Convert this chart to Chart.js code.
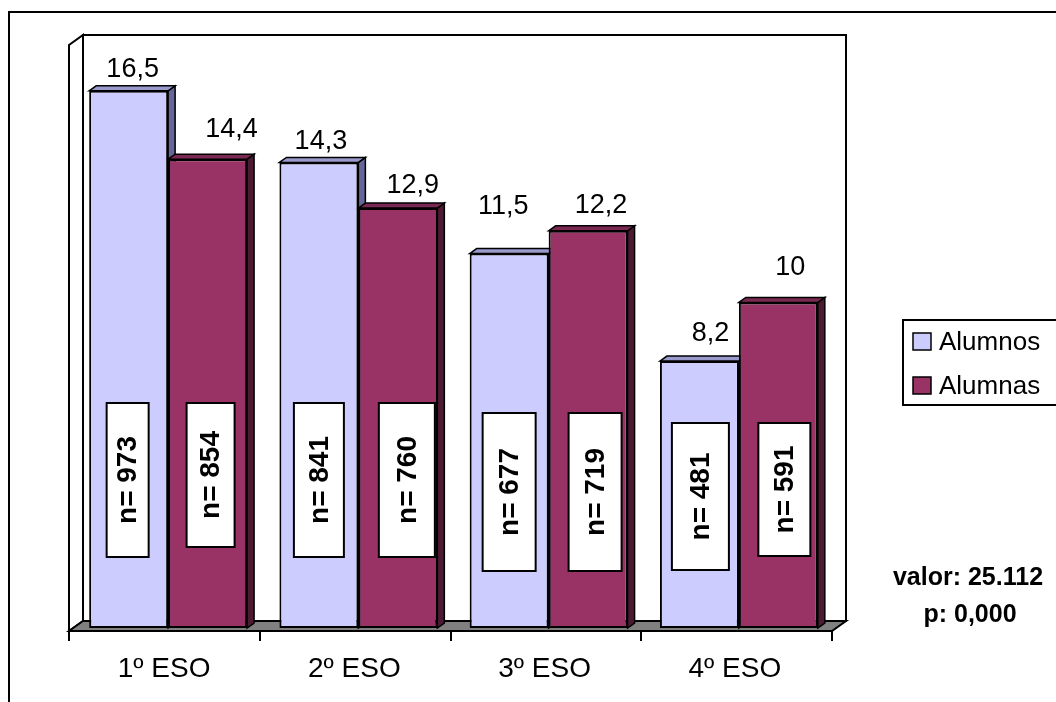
<!DOCTYPE html>
<html>
<head>
<meta charset="utf-8">
<script src="https://cdn.jsdelivr.net/npm/chart.js@4/dist/chart.umd.min.js"></script>
<style>
	body { margin: 0; background: #fff; }
</style>
</head>
<body>
<canvas id="barChart" width="1056" height="702"></canvas>
<script>
// datos del gráfico
var cursos = [ '1º ESO', '2º ESO', '3º ESO', '4º ESO' ];
var alumnos = [ 16.5, 14.3, 11.5, 8.2 ];
var alumnas = [ 14.4, 12.9, 12.2, 10 ];
var nAlumnos = [ 973, 841, 677, 481 ];
var nAlumnas = [ 854, 760, 719, 591 ];
var estadistico = [ 'valor: 25.112', 'p: 0,000' ];

var FUENTE = "'Liberation Sans', Arial, sans-serif";
var PROF_X = 7, PROF_Y = 5;     // profundidad de las barras
var PARED_X = 14, PARED_Y = 10; // profundidad de pared y suelo

// colores: frente, arriba, lado
var colAlumnos = [ '#CCCCFF', '#9999CC', '#666699' ];
var colAlumnas = [ '#993366', '#7A2952', '#4D1A33' ];

// ajuste manual de las etiquetas de valor [dx, dy]
var ajusteEtiquetas = [
	[ [ 1, 0 ], [ -1, 1 ], [ -9, -26 ], [ 8, -6 ] ],
	[ [ 21, -8 ], [ 12, -1 ], [ 10, -4 ], [ 9, -13 ] ]
];
// cajas "n=" [dx, arriba, abajo, ancho]
var cajasN = [
	[ [ -1, 403, 557, 42 ], [ 0, 403, 557, 50 ], [ 0, 413, 571, 53 ], [ 1, 423, 570, 57 ] ],
	[ [ 3, 403, 547, 48 ], [ 9, 403, 557, 56 ], [ 7, 413, 571, 53 ], [ 6, 423, 556, 52 ] ]
];

function poligono(ctx, pts, relleno) {
	ctx.beginPath();
	ctx.moveTo(pts[0][0], pts[0][1]);
	for (var i = 1; i < pts.length; i++) ctx.lineTo(pts[i][0], pts[i][1]);
	ctx.closePath();
	if (relleno) {
		ctx.fillStyle = relleno;
		ctx.fill();
	}
	ctx.stroke();
}

var efecto3d = {
	id : 'efecto3d',
	beforeDraw : function(chart) {
		var ctx = chart.ctx;
		ctx.save();
		ctx.fillStyle = '#fff';
		ctx.fillRect(0, 0, chart.width, chart.height);
		ctx.strokeStyle = '#000';
		ctx.lineWidth = 2;
		ctx.strokeRect(9, 12, chart.width + 20, chart.height + 20);
		ctx.restore();
	},
	beforeDatasetsDraw : function(chart) {
		var ctx = chart.ctx, a = chart.chartArea;
		var fx0 = a.left - 4, fx1 = a.right - 2, fy = a.bottom + 3;
		var bx0 = fx0 + PARED_X, bx1 = fx1 + PARED_X, by = fy - PARED_Y;
		var techo = a.top - 7;
		ctx.save();
		ctx.strokeStyle = '#000';
		ctx.lineWidth = 2;
		ctx.lineJoin = 'miter';
		// pared del fondo
		poligono(ctx, [ [ bx0, techo ], [ bx1, techo ], [ bx1, by ], [ bx0, by ] ], '#fff');
		// pared izquierda
		poligono(ctx, [ [ fx0, techo + PARED_Y ], [ bx0, techo ], [ bx0, by ], [ fx0, fy ] ], '#fff');
		// suelo
		poligono(ctx, [ [ fx0, fy ], [ bx0, by ], [ bx1, by ], [ fx1, fy ] ], '#808080');
		// marcas del eje
		var n = cursos.length;
		for (var i = 0; i <= n; i++) {
			var x = Math.round(fx0 + i * (fx1 - fx0) / n);
			ctx.beginPath();
			ctx.moveTo(x, fy);
			ctx.lineTo(x, fy + 10);
			ctx.stroke();
		}
		// etiquetas de categoria
		ctx.fillStyle = '#000';
		ctx.font = '28px ' + FUENTE;
		ctx.textAlign = 'center';
		ctx.textBaseline = 'alphabetic';
		var xs = chart.scales.x;
		for (var i = 0; i < n; i++) {
			ctx.fillText(cursos[i], xs.getPixelForValue(i) - 4, a.bottom + 49);
		}
		// caras superior y lateral de las barras
		ctx.lineWidth = 1.5;
		for (var i = 0; i < n; i++) {
			for (var d = 0; d < chart.data.datasets.length; d++) {
				var el = chart.getDatasetMeta(d).data[i];
				var col = d === 0 ? colAlumnos : colAlumnas;
				var l = el.x - el.width / 2, r = el.x + el.width / 2;
				poligono(ctx, [ [ r, el.y ], [ r + PROF_X, el.y - PROF_Y ], [ r + PROF_X, el.base - PROF_Y ], [ r, el.base ] ], col[2]);
				poligono(ctx, [ [ l, el.y ], [ l + PROF_X, el.y - PROF_Y ], [ r + PROF_X, el.y - PROF_Y ], [ r, el.y ] ], col[1]);
			}
		}
		ctx.restore();
	},
	afterDatasetsDraw : function(chart) {
		var ctx = chart.ctx;
		ctx.save();
		ctx.textAlign = 'center';
		for (var d = 0; d < chart.data.datasets.length; d++) {
			var meta = chart.getDatasetMeta(d);
			var ns = d === 0 ? nAlumnos : nAlumnas;
			var valores = chart.data.datasets[d].data;
			for (var i = 0; i < meta.data.length; i++) {
				var el = meta.data[i];
				// valor encima de la barra
				var aj = ajusteEtiquetas[d][i];
				ctx.fillStyle = '#000';
				ctx.font = '27px ' + FUENTE;
				ctx.textBaseline = 'alphabetic';
				ctx.fillText(String(valores[i]).replace('.', ','), el.x + 3 + aj[0], el.y - 14 + aj[1]);
				// caja con n=
				var c = cajasN[d][i];
				var cx = el.x + c[0];
				ctx.fillStyle = '#fff';
				ctx.strokeStyle = '#000';
				ctx.lineWidth = 2;
				ctx.fillRect(cx - c[3] / 2, c[1], c[3], c[2] - c[1]);
				ctx.strokeRect(cx - c[3] / 2, c[1], c[3], c[2] - c[1]);
				ctx.save();
				ctx.translate(cx, (c[1] + c[2]) / 2);
				ctx.rotate(-Math.PI / 2);
				ctx.fillStyle = '#000';
				ctx.font = 'bold 28px ' + FUENTE;
				ctx.textBaseline = 'middle';
				ctx.fillText('n= ' + ns[i], 0, 1);
				ctx.restore();
			}
		}
		// leyenda
		ctx.lineWidth = 2;
		ctx.strokeStyle = '#000';
		ctx.strokeRect(903, 320, 200, 85);
		ctx.font = '26px ' + FUENTE;
		ctx.textAlign = 'left';
		ctx.textBaseline = 'middle';
		for (var d = 0; d < chart.data.datasets.length; d++) {
			var ds = chart.data.datasets[d];
			var y = 333 + d * 44;
			ctx.fillStyle = ds.backgroundColor;
			ctx.fillRect(913, y, 18, 17);
			ctx.lineWidth = 1.5;
			ctx.strokeRect(913, y, 18, 17);
			ctx.fillStyle = '#000';
			ctx.fillText(ds.label, 939, y + 10);
		}
		// estadistico
		ctx.font = 'bold 25px ' + FUENTE;
		ctx.textAlign = 'center';
		ctx.textBaseline = 'alphabetic';
		ctx.fillText(estadistico[0], 968, 585);
		ctx.fillText(estadistico[1], 970, 622);
		ctx.restore();
	}
};

var ctx = document.getElementById('barChart').getContext('2d');
var barChart = new Chart(ctx, {
	type : 'bar',
	data : {
		labels : cursos,
		datasets : [ {
			label : 'Alumnos',
			data : alumnos,
			backgroundColor : colAlumnos[0],
			borderColor : '#000',
			borderWidth : 2,
			borderSkipped : false
		}, {
			label : 'Alumnas',
			data : alumnas,
			backgroundColor : colAlumnas[0],
			borderColor : '#000',
			borderWidth : 2,
			borderSkipped : false
		} ]
	},
	options : {
		responsive : false,
		animation : false,
		layout : {
			padding : { left : 73, top : 42, right : 222, bottom : 74 }
		},
		datasets : {
			bar : { categoryPercentage : 0.83, barPercentage : 1.0 }
		},
		scales : {
			x : { display : false },
			y : { display : false, min : 0, max : 18 }
		},
		plugins : {
			legend : { display : false },
			tooltip : { enabled : false }
		}
	},
	plugins : [ efecto3d ]
});
</script>
</body>
</html>
